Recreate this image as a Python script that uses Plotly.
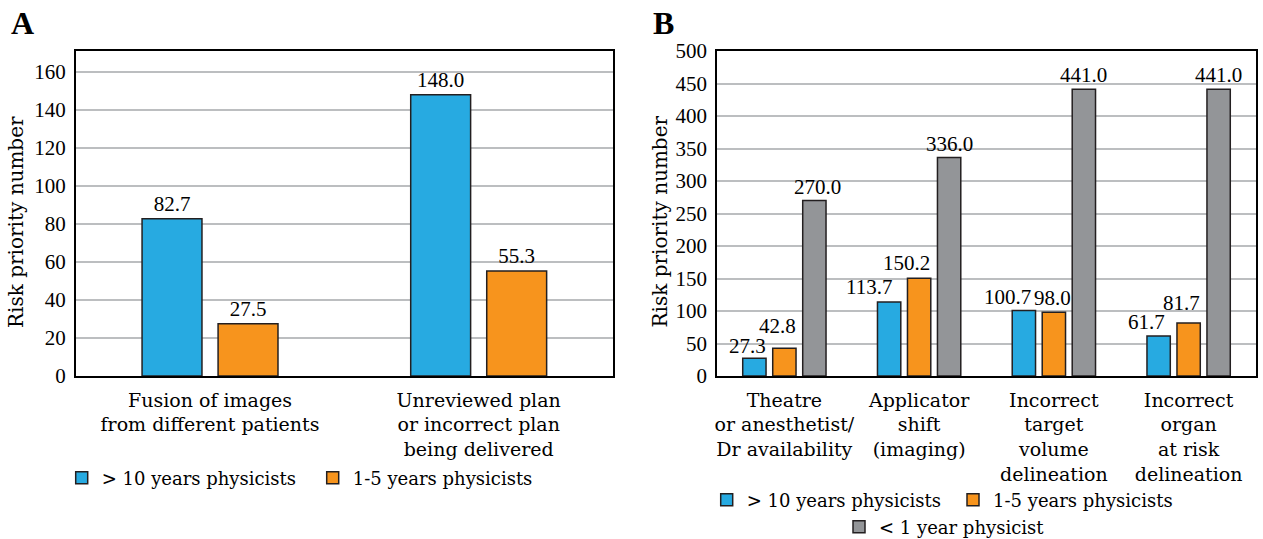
import plotly.graph_objects as go

# ---------------- data ----------------
categories_A = ["Fusion of images<br>from different patients",
                "Unreviewed plan<br>or incorrect plan<br>being delivered"]
gt10_A = [82.7, 148.0]
y1to5_A = [27.5, 55.3]

categories_B = ["Theatre<br>or anesthetist/<br>Dr availability",
                "Applicator<br>shift<br>(imaging)",
                "Incorrect<br>target<br>volume<br>delineation",
                "Incorrect<br>organ<br>at risk<br>delineation"]
gt10_B = [27.3, 113.7, 100.7, 61.7]
y1to5_B = [42.8, 150.2, 98.0, 81.7]
lt1_B = [270.0, 336.0, 441.0, 441.0]

series_names = ["> 10 years physicists", "1-5 years physicists", "< 1 year physicist"]
yticks_A = [0, 20, 40, 60, 80, 100, 120, 140, 160]
yticks_B = [0, 50, 100, 150, 200, 250, 300, 350, 400, 450, 500]

# ---------------- style ----------------
W, H = 1263, 539
PT, PB = 51, 376          # plot area top / bottom in px
COL = ["#27aae1", "#f7941d", "#939598"]
EDGE = "#231f20"
NUM_FONT = "Liberation Serif"
TXT_FONT = "DejaVu Serif"
GRID = "#bcbec0"

# label nudges (px) for panel B value labels: [series][category]
label_dx_B = [[-7, -20, -16, -12], [-7, -13, -1, -7], [3, 0, 0, 0]]
label_dy_B = [[2, 5, 4, 4], [12, 5, 4, 10], [4, 4, 4, 4]]


def py(pix):
    return (PB - pix) / (PB - PT)


def px(pix):
    return pix / W


fig = go.Figure()


def add_bar(x, y, i, xa, ya, width, offset, legend, show_text):
    fig.add_trace(go.Bar(
        x=x, y=y, name=series_names[i], xaxis=xa, yaxis=ya,
        marker=dict(color=COL[i], line=dict(color=EDGE, width=1.5)),
        width=width, offset=offset,
        text=[f"{v:.1f}" for v in y] if show_text else None,
        textposition="outside",
        textfont=dict(family=NUM_FONT, size=21, color="black"),
        constraintext="none", cliponaxis=False,
        legend=legend, showlegend=True, hoverinfo="x+y",
    ))


# Panel A
wA = 0.223
centA = [-0.1415, 0.1415]
for i, vals in enumerate([gt10_A, y1to5_A]):
    add_bar(categories_A, vals, i, "x", "y", wA, centA[i] - wA / 2,
            ["legend", "legend2"][i], True)

# Panel B
wB = 0.173
centB = [-0.2226, 0.0, 0.2226]
seriesB = [gt10_B, y1to5_B, lt1_B]
for i, vals in enumerate(seriesB):
    add_bar(categories_B, vals, i, "x2", "y2", wB, centB[i] - wB / 2,
            ["legend3", "legend4", "legend5"][i], False)
    for j, v in enumerate(vals):
        fig.add_annotation(x=j + centB[i], y=v, xref="x2", yref="y2",
                           text=f"{v:.1f}", showarrow=False,
                           xanchor="center", yanchor="bottom",
                           xshift=label_dx_B[i][j], yshift=label_dy_B[i][j] - 4,
                           font=dict(family=NUM_FONT, size=21, color="black"))

axis_common = dict(showline=True, linecolor="black", linewidth=1.5, mirror=True,
                   zeroline=False, ticks="")

fig.update_layout(
    width=W, height=H, barmode="overlay",
    margin=dict(l=0, r=0, t=PT, b=H - PB, pad=0, autoexpand=False),
    paper_bgcolor="white", plot_bgcolor="white",
    xaxis=dict(domain=[px(75.7), px(613)], type="category", range=[-0.5, 1.5],
               showgrid=False, tickfont=dict(family=TXT_FONT, size=19, color="black"),
               ticklabelstandoff=6, anchor="y", automargin=False, **axis_common),
    yaxis=dict(range=[0, 171], tickvals=yticks_A, showgrid=True, gridcolor=GRID,
               gridwidth=1.5, tickfont=dict(family=NUM_FONT, size=21, color="black"),
               ticklabelstandoff=4, anchor="x", automargin=False, **axis_common),
    xaxis2=dict(domain=[px(717), px(1256)], type="category", range=[-0.5, 3.5],
                showgrid=False, tickfont=dict(family=TXT_FONT, size=19, color="black"),
                ticklabelstandoff=6, anchor="y2", automargin=False, **axis_common),
    yaxis2=dict(range=[0, 500], tickvals=yticks_B, showgrid=True, gridcolor=GRID,
                gridwidth=1.5, tickfont=dict(family=NUM_FONT, size=21, color="black"),
                ticklabelstandoff=4, anchor="x2", automargin=False, **axis_common),
    showlegend=True,
)

leg_font = dict(family=TXT_FONT, size=18, color="black")
legend_pos = {  # text start x (px), row centre y (px)
    "legend": (101.7, 478), "legend2": (352.7, 478),
    "legend3": (746.7, 500), "legend4": (993, 500), "legend5": (879, 527),
}
for key, (tx, ty) in legend_pos.items():
    fig.update_layout(**{key: dict(x=px(tx - 40), y=py(ty), xanchor="left", yanchor="middle",
                                   orientation="h", font=leg_font,
                                   bgcolor="rgba(0,0,0,0)", borderwidth=0,
                                   itemclick=False, itemdoubleclick=False)})

# panel letters and axis titles
for letter, xpix in [("A", 9), ("B", 651)]:
    fig.add_annotation(text=f"<b>{letter}</b>", xref="paper", yref="paper",
                       x=px(xpix), y=py(23), xanchor="left", yanchor="middle",
                       showarrow=False, font=dict(family=NUM_FONT, size=32, color="black"))
for xpix in [16, 659.5]:
    fig.add_annotation(text="Risk priority number", xref="paper", yref="paper",
                       x=px(xpix), y=py(222), xanchor="center", yanchor="middle",
                       textangle=-90, showarrow=False,
                       font=dict(family=TXT_FONT, size=20, color="black"))

fig.write_html("out.html", config={"displayModeBar": False},
               post_script="document.body.style.margin='0';")
